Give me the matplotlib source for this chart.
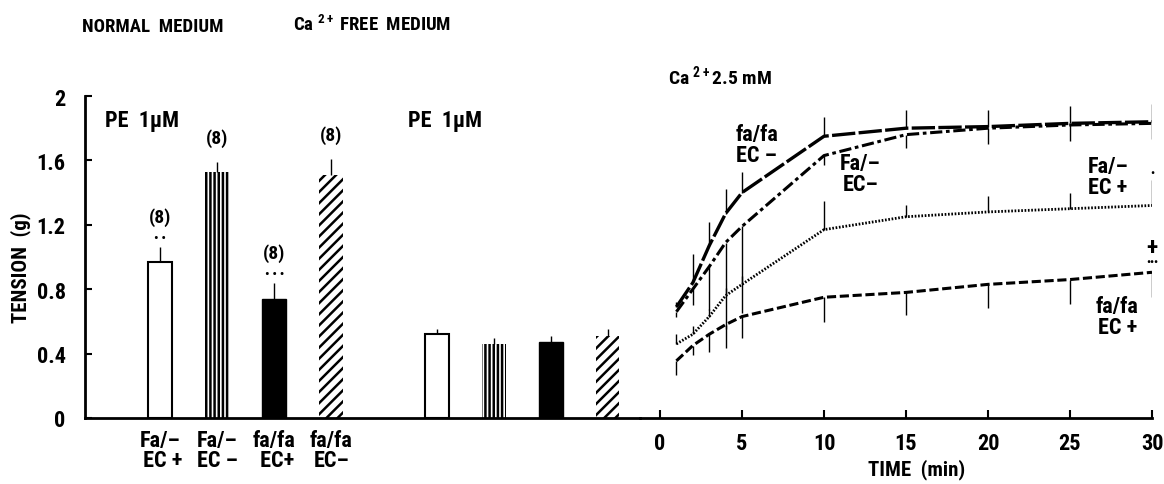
import matplotlib
matplotlib.use("Agg")
import matplotlib.pyplot as plt

plt.rcParams.update({
    "font.family": ["Roboto Condensed", "DejaVu Sans"],
    "font.stretch": "condensed",
    "font.weight": "bold",
    "axes.labelweight": "bold",
    "font.size": 14,
    "mathtext.default": "regular",
    "hatch.linewidth": 1.8,
    "axes.linewidth": 2,
})

# bar charts (PE 1 uM)
bar_labels = ["Fa/\u2013\n EC +", "Fa/\u2013\nEC \u2013", "fa/fa\n EC+", "fa/fa\nEC\u2013"]
normal_vals = [0.97, 1.53, 0.74, 1.51]
normal_err = [0.09, 0.06, 0.10, 0.10]
free_vals = [0.52, 0.46, 0.47, 0.51]
free_err = [0.03, 0.04, 0.04, 0.04]
n_labels = ["(8)", "(8)", "(8)", "(8)"]
sig_normal = ["\u2022 \u2022", "", "\u2022 \u2022 \u2022", ""]

# time course after Ca2+ 2.5 mM
time = [1, 2, 3, 4, 5, 10, 15, 20, 25, 30]
fafa_ecm = [0.69, 0.84, 1.07, 1.27, 1.40, 1.75, 1.80, 1.81, 1.83, 1.84]
fafa_ecm_err = [0.03, 0.18, 0.15, 0.15, 0.13, 0.12, 0.11, 0.10, 0.11, 0.11]
fa_ecm = [0.66, 0.80, 0.94, 1.09, 1.19, 1.63, 1.76, 1.80, 1.82, 1.83]
fa_ecm_err = [0.03, 0.10, 0.27, 0.54, 0.54, 0.06, 0.08, 0.10, 0.10, 0.10]
fa_ecp = [0.46, 0.52, 0.63, 0.76, 0.83, 1.17, 1.25, 1.28, 1.30, 1.32]
fa_ecp_err = [0.06, 0.05, 0.05, 0.05, 0.05, 0.18, 0.07, 0.10, 0.10, 0.16]
fafa_ecp = [0.355, 0.45, 0.52, 0.58, 0.63, 0.75, 0.78, 0.83, 0.86, 0.905]
fafa_ecp_err = [0.09, 0.06, 0.11, 0.145, 0.13, 0.155, 0.14, 0.145, 0.155, 0.155]

W, H = 1164, 485
fig = plt.figure(figsize=(W / 100, H / 100), dpi=100)

def px(x, y):
    return x / W, 1 - y / H

# left axes: bars
axb = fig.add_axes([85 / W, 66 / H, 555 / W, 322 / H])
axb.set_xlim(-1.32, 8.42)
axb.set_ylim(0, 2)
pos_n = [0, 1, 2, 3]
pos_f = [4.85, 5.85, 6.85, 7.85]
styles = [dict(color="white", edgecolor="k", linewidth=1.5),
          dict(color="white", edgecolor="k", linewidth=0, hatch="||||"),
          dict(color="k", edgecolor="k", linewidth=1),
          dict(color="white", edgecolor="k", linewidth=0, hatch="///")]
for pos, vals, errs in [(pos_n, normal_vals, normal_err), (pos_f, free_vals, free_err)]:
    for i in range(4):
        axb.bar(pos[i], vals[i], width=0.42, **styles[i])
        axb.errorbar(pos[i], vals[i], yerr=[[0], [errs[i]]], fmt="none", ecolor="k", elinewidth=1, capsize=0)
for i in range(4):
    top = normal_vals[i] + normal_err[i]
    if sig_normal[i]:
        axb.text(pos_n[i], top + 0.06, sig_normal[i], ha="center", va="center", fontsize=9)
        axb.text(pos_n[i], top + 0.19, n_labels[i], ha="center", va="center", fontsize=14)
    else:
        axb.text(pos_n[i], top + 0.15, n_labels[i], ha="center", va="center", fontsize=14)
axb.spines[["top", "right"]].set_visible(False)
axb.set_yticks([0, 0.4, 0.8, 1.2, 1.6, 2], ["0", "0.4", "0.8", "1.2", "1.6", "2"])
axb.tick_params(axis="y", direction="in", length=5, width=1.5, pad=14, labelsize=16)
axb.set_xticks(pos_n, bar_labels)
axb.tick_params(axis="x", length=0, pad=8, labelsize=16)
for t in axb.get_xticklabels():
    t.set_linespacing(0.85)
axb.set_ylabel("TENSION  (g)", fontsize=15)
axb.yaxis.set_label_coords(-0.098, 0.47)
axb.text(-0.97, 1.85, "PE  1\u00b5M", fontsize=16, va="center")
axb.text(4.35, 1.85, "PE  1\u00b5M", fontsize=16, va="center")

# right axes: time course
axt = fig.add_axes([640 / W, 66 / H, 512 / W, 322 / H])
axt.set_xlim(-1.22, 30)
axt.set_ylim(0, 2)
axt.patch.set_alpha(0)
axt.spines[["top", "right", "left"]].set_visible(False)
axt.set_yticks([])
axt.set_xticks([0, 5, 10, 15, 20, 25, 30])
axt.tick_params(axis="x", direction="in", length=6, width=1.5, pad=10, labelsize=16)
axt.set_xlabel("TIME  (min)", fontsize=15)
axt.xaxis.set_label_coords(0.541, -0.125)

series = [
    (fafa_ecm, fafa_ecm_err, "up", dict(lw=2.4, dashes=(7, 1))),
    (fa_ecm, fa_ecm_err, "down", dict(lw=2.2, dashes=(4, 1.2, 1.2, 1.2))),
    (fa_ecp, fa_ecp_err, "up", dict(lw=2.0, dashes=(0.6, 0.6))),
    (fafa_ecp, fafa_ecp_err, "down", dict(lw=2.2, dashes=(3, 1.2))),
]
for y, e, side, st in series:
    axt.plot(time, y, color="k", **st)
    zeros = [0] * len(e)
    yerr = [zeros, e] if side == "up" else [e, zeros]
    axt.errorbar(time, y, yerr=yerr, fmt="none", ecolor="k", elinewidth=1, capsize=0)

lab = dict(ha="center", va="center", fontsize=16, linespacing=0.95)
axt.text(5.9, 1.70, "fa/fa\nEC \u2013", **lab)
axt.text(12.2, 1.52, "Fa/\u2013\nEC\u2013", **lab)
axt.text(27.3, 1.50, "Fa/\u2013\nEC +", **lab)
axt.text(27.9, 0.63, "fa/fa\nEC +", **lab)
axt.text(30, 1.52, "\u2022", ha="center", va="center", fontsize=8)
axt.text(30, 1.06, "+", ha="center", va="center", fontsize=17)
axt.text(30, 0.97, "\u2022\u2022\u2022", ha="center", va="center", fontsize=8)

# headings
fig.text(*px(82, 27), "NORMAL  MEDIUM", fontsize=13.5, va="center")
fig.text(*px(293, 25), "Ca $^{2+}$ FREE  MEDIUM", fontsize=13.5, va="center")
fig.text(*px(668, 76), "Ca $^{2+}$2.5 mM", fontsize=14, va="center")

fig.savefig("out.png", dpi=100)
